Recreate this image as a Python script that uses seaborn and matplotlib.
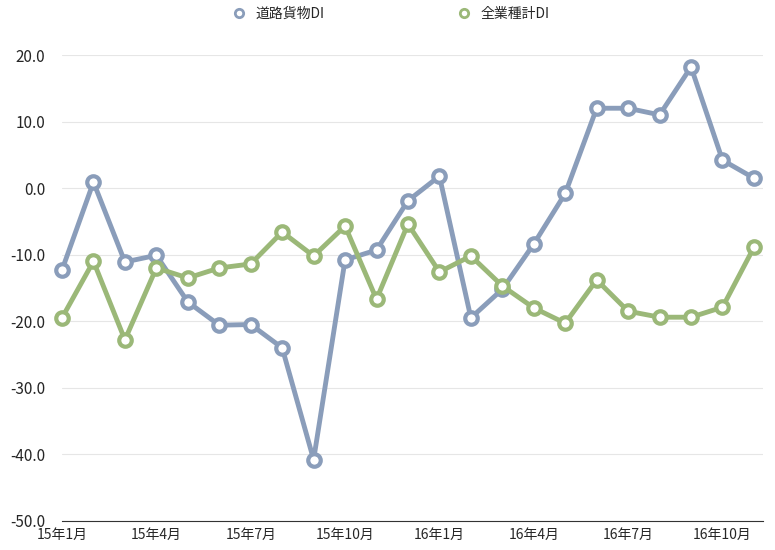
import matplotlib
matplotlib.use("Agg")
import matplotlib.pyplot as plt
import seaborn as sns
import pandas as pd

months = [f"{y}年{m}月" for y, m in [(15, i) for i in range(1, 13)] + [(16, i) for i in range(1, 12)]]
road = [-12.3, 0.9, -11.1, -10.1, -17.1, -20.6, -20.5, -24.0, -40.8, -10.8, -9.3, -1.9,
        1.8, -19.5, -15.2, -8.4, -0.8, 12.0, 12.0, 11.0, 18.2, 4.2, 1.5]
allind = [-19.5, -11.0, -22.8, -12.0, -13.5, -12.0, -11.4, -6.6, -10.2, -5.7, -16.7, -5.4,
          -12.6, -10.2, -14.7, -18.0, -20.3, -13.8, -18.5, -19.4, -19.4, -17.9, -8.9]
series_names = ["道路貨物DI", "全業種計DI"]
colors = ["#8a9dba", "#9bb878"]

sns.set_style("white")
plt.rcParams['font.family'] = ['Noto Sans CJK JP', 'DejaVu Sans']

df = pd.DataFrame({"x": list(range(len(months))) * 2,
                   "v": road + allind,
                   "s": [series_names[0]] * len(road) + [series_names[1]] * len(allind)})

fig = plt.figure(figsize=(7.75, 5.5), dpi=100)
ax = fig.add_axes([0.08, 0.053, 0.905, 0.847])
sns.lineplot(data=df, x="x", y="v", hue="s", palette=colors, ax=ax, linewidth=3.5,
             marker="o", markersize=9, markerfacecolor="white", markeredgewidth=3, legend=False)
for ln, c in zip(ax.lines, colors):
    ln.set_markeredgecolor(c)
    ln.set_clip_on(False)

ax.set_ylim(-50, 20)
ax.set_xlim(0, 22.3)
ax.set_yticks(range(-50, 21, 10))
ax.set_yticklabels([f"{v:.1f}" for v in range(-50, 21, 10)], fontsize=11)
ticks = list(range(0, 23, 3))
ax.set_xticks(ticks)
ax.set_xticklabels([months[i] for i in ticks], fontsize=10)
ax.grid(axis="y", color="#e6e6e6", linewidth=0.8)
for s in ["top", "right", "left"]:
    ax.spines[s].set_visible(False)
ax.spines["bottom"].set_color("#333333")
ax.tick_params(axis="x", length=4, color="#333333", pad=1)
ax.tick_params(axis="y", length=0, pad=12)
ax.set_xlabel(""); ax.set_ylabel("")

from matplotlib.lines import Line2D
handles = [Line2D([], [], color=c, marker="o", markerfacecolor="white", markeredgewidth=2,
                  markersize=6, linestyle="none") for c in colors]
fig.legend(handles, series_names, loc="upper center", bbox_to_anchor=(0.5, 1.01), ncol=2,
           frameon=False, fontsize=10, columnspacing=9, handletextpad=0.2)
fig.savefig("out.png", dpi=100)
